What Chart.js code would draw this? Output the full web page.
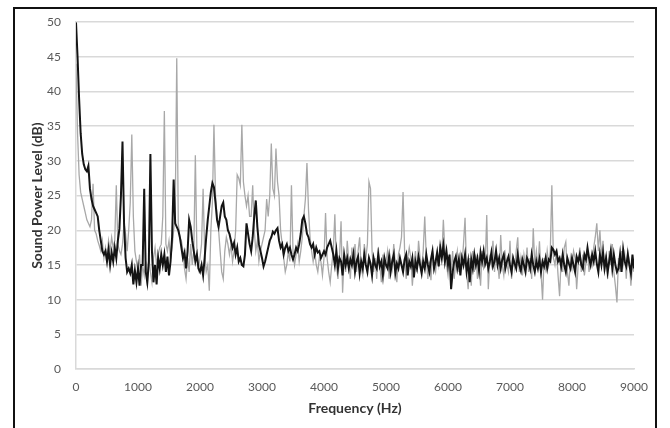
<!DOCTYPE html>
<html>
<head>
<meta charset="utf-8">
<script src="https://cdn.jsdelivr.net/npm/chart.js@4.4.0/dist/chart.umd.min.js"></script>
<style>
body { margin: 0; background: #fff; }
#wrap { position: relative; width: 670px; height: 428px; overflow: hidden; }
#myChart { position: absolute; left: 0; top: 0; }
#frame { position: absolute; left: 13px; top: 7px; width: 640px; height: 440px; border: 2px solid #111; pointer-events: none; }
</style>
</head>
<body>
<div id="wrap">
  <canvas id="myChart" width="670" height="428"></canvas>
  <div id="frame"></div>
</div>
<script>
// frequency grid, 25 Hz steps from 0 to 9000 Hz
var freqStep = 25;
var freqs = [];
for (var f = 0; f <= 9000; f += freqStep) freqs.push(f);

var xTicks = [0, 1000, 2000, 3000, 4000, 5000, 6000, 7000, 8000, 9000];
var yTicks = [0, 5, 10, 15, 20, 25, 30, 35, 40, 45, 50];

// black trace (dB)
var blackLevels = [
    50, 45, 39, 34, 31, 29.5, 28.8, 28.5, 29.3, 26,
    24.5, 23.5, 23, 22.5, 22, 20, 18.5, 17, 16.5, 17,
    15.5, 17.2, 15, 16.8, 15.5, 17.5, 16, 18.5, 20.2, 25,
    32.8, 21, 16, 14, 14.5, 13.8, 15, 12.2, 14.2, 12.5,
    // 1000
    14.5, 12, 15, 15, 26, 14, 12.5, 15.5, 31, 17,
    12.5, 15, 12.2, 16, 14.5, 16.5, 15, 16.5, 14, 16.2,
    13.5, 15.5, 19, 27.3, 21, 20.5, 20, 19, 17.5, 16,
    16.8, 14.5, 17, 21.5, 20.5, 18.5, 17, 15.5, 16.5, 14.5,
    // 2000
    14, 15, 13.5, 16, 19, 21.5, 23.5, 25.5, 26.8, 26.2,
    24, 21.5, 20.5, 22, 23.5, 24, 22, 21.5, 20, 19.5,
    18.5, 17.5, 18.2, 16.5, 17.5, 15.5, 16, 15, 14.8, 16.5,
    21, 19.5, 18, 17, 19, 22, 24.3, 20.5, 18, 17,
    // 3000
    16, 14.8, 15.5, 16.5, 17.5, 18.5, 19, 19.8, 19.5, 20,
    20.3, 18.5, 17.5, 18, 16.5, 17.5, 18, 17, 17.5, 16.5,
    15.8, 16.5, 17.5, 17, 18, 19.5, 21.5, 22, 21, 19.5,
    19, 18, 17.5, 18, 16.5, 17.5, 16.8, 17, 16, 16.5,
    // 4000
    17, 16.5, 17.5, 18, 18.5, 17.5, 16.5, 15, 17, 14.5,
    16, 15.5, 13.5, 16.5, 15, 16, 14.5, 15.8, 15, 16.5,
    14, 15.5, 16.2, 13.8, 15.5, 14.5, 16.5, 15, 14, 16,
    15.2, 13.5, 16, 15, 14.5, 16.5, 14.8, 15.5, 13.5, 16,
    // 5000
    15, 14.5, 16.2, 14, 15.5, 16.5, 13.8, 15.2, 14.5, 16,
    15, 14, 15.8, 16.5, 13.5, 15.5, 14.8, 16, 13.2, 15.5,
    14.5, 16.2, 15, 13.8, 15.5, 14.5, 16.5, 15, 14, 15.8,
    17, 14.5, 15.5, 16.8, 14.8, 17.5, 16, 17.8, 15.5, 17,
    // 6000
    15, 16.5, 11.5, 14, 15.5, 16.2, 14.5, 15.8, 13.5, 16,
    15, 16.5, 14, 15.5, 12.5, 15.8, 14.5, 16.5, 15, 16,
    14.2, 16.8, 15.5, 17, 15.2, 16, 14.5, 15.5, 16.8, 14.8,
    15.5, 17, 15, 16, 14.5, 15.8, 16.5, 14.5, 15.5, 16.2,
    // 7000
    15, 14, 16, 15.2, 14.5, 16.5, 15, 14.2, 15.8, 15,
    14, 16, 15.5, 14.5, 16.5, 15, 14, 15.5, 14.5, 15.8,
    14, 15.5, 14.8, 16, 14.5, 15.8, 15.5, 17.5, 17.2, 16.5,
    17, 15.5, 16, 14.8, 16.5, 15, 14, 16, 15.2, 14.5,
    // 8000
    16, 15, 14, 16.2, 15.5, 16.5, 15, 14.5, 16.5, 15.8,
    17.5, 16, 15, 16.5, 15.5, 17, 15.2, 14, 16.5, 15,
    16.8, 14.5, 16, 14, 15.5, 17, 14.5, 16.5, 15, 14,
    14.5, 16.5, 14, 17.2, 15.5, 14.8, 16.5, 15, 13.8, 16.5,
    14.5
];

// grey trace (dB)
var greyLevels = [
    44, 34, 28, 25.5, 24.5, 23.5, 22.5, 21.5, 21, 20.5,
    21.5, 26.7, 20, 19.5, 18.5, 17.8, 17, 18.5, 16, 17.5,
    16, 18.5, 17, 19, 17.5, 18.5, 26.5, 18, 17, 16.5,
    18, 21, 19.5, 17, 20, 24, 33.8, 22, 17, 15.5,
    // 1000
    14, 16.5, 12, 15, 13.5, 15.5, 12, 16, 14, 12.5,
    16, 17.5, 15, 16.5, 17.5, 18, 22, 37.2, 18, 17,
    18.5, 16, 17.5, 20, 22, 44.8, 21, 19, 18.5, 17,
    14.5, 13, 16, 14, 18, 15, 17, 30.8, 17, 14.5,
    // 2000
    16, 18, 26, 17, 14, 15, 11.3, 20, 24, 35.2,
    25, 22, 20, 17, 14, 13, 17, 19, 18, 16.5,
    18, 15.5, 17, 20, 28, 27.5, 26.5, 35.2, 27, 25,
    23.5, 25, 22, 22, 26.5, 20, 17, 18.5, 15.5, 17,
    // 3000
    18, 19, 20, 24.5, 22, 25, 32.5, 26, 25, 31.8,
    27, 25, 20, 18, 16, 14, 15, 17, 15.5, 26.5,
    17, 15, 16.5, 18, 15.5, 17, 19, 22, 24.5, 29.7,
    23, 19, 17, 15.5, 17, 15, 14, 16, 15.5, 13.5,
    // 4000
    16, 22.5, 16, 14, 12.5, 15, 17, 22.3, 15, 13,
    16, 21.3, 11, 16, 14, 18.5, 15.5, 13, 17.5, 15,
    18, 14, 17, 19, 14.5, 13.5, 18, 16, 18, 27,
    26, 17, 14, 16, 13, 17.5, 15, 12.5, 16.5, 14,
    // 5000
    15.5, 17, 13, 16, 14.5, 18, 15, 12.5, 16.5, 17.5,
    19, 25.5, 17, 13, 16, 17.5, 16, 12, 15, 17,
    14, 18.5, 16, 14.5, 17, 22, 16, 13, 15.5, 12.8,
    17, 15, 14, 16.5, 15, 18, 16, 21.5, 17, 15,
    // 6000
    13.5, 16, 14, 17, 13, 15.5, 17, 14, 16.5, 15,
    18, 21.8, 14, 11.5, 16, 12, 17, 14, 16.5, 13,
    15.5, 12, 17, 14.5, 15, 22.2, 11.5, 16, 15, 18.5,
    14, 17, 15.5, 13, 19.3, 15, 13.5, 16.5, 15, 14,
    // 7000
    18.5, 13, 16, 14.5, 17, 19, 14, 16, 13.5, 16.5,
    15, 17.5, 14, 16, 13, 20.3, 15, 17, 14.5, 18.4,
    14, 10, 16, 14.5, 17, 15, 17, 26.5, 16, 15,
    17, 13.5, 10.5, 16, 14, 17.5, 18.3, 14, 12, 16,
    // 8000
    14.5, 17, 16, 11.5, 15, 17.5, 14, 16.5, 13.5, 15.5,
    17, 14, 16, 15, 17.5, 19, 21, 17, 20, 16,
    18.5, 14, 16.5, 13, 17, 15, 18, 14, 12, 9.6,
    16, 14, 17, 15, 16.5, 13, 17, 15.5, 12, 15,
    14
];

var labelFont = { family: 'Lato', size: 12 };
var titleFont = { family: 'Lato', size: 14, weight: 'bold' };

var ctx = document.getElementById("myChart");
var myChart = new Chart(ctx, {
    type: 'line',
    data: {
        datasets: [
            {
                label: 'black',
                data: freqs.map(function(f, i) { return { x: f, y: blackLevels[i] }; }),
                borderColor: '#141414',
                borderWidth: 2,
                pointRadius: 0,
                tension: 0
            },
            {
                label: 'grey',
                data: freqs.map(function(f, i) { return { x: f, y: greyLevels[i] }; }),
                borderColor: '#a8a8a8',
                borderWidth: 1.3,
                pointRadius: 0,
                tension: 0
            }
        ]
    },
    options: {
        responsive: false,
        animation: false,
        layout: { padding: { left: 0, top: 22, right: 36, bottom: 0 } },
        plugins: {
            legend: { display: false },
            tooltip: { enabled: false }
        },
        scales: {
            x: {
                type: 'linear',
                min: 0,
                max: 9000,
                afterBuildTicks: function(s) { s.ticks = xTicks.map(function(v) { return { value: v }; }); },
                afterFit: function(s) { s.height = 59; },
                ticks: {
                    padding: 11,
                    maxRotation: 0,
                    color: '#595959',
                    font: labelFont,
                    callback: function(v) { return String(v); }
                },
                grid: { display: false, drawTicks: false },
                border: { display: true, color: '#d9d9d9', width: 1.5 },
                title: {
                    display: true,
                    text: 'Frequency (Hz)',
                    color: '#333',
                    font: titleFont,
                    padding: { top: 0, bottom: 11 }
                }
            },
            y: {
                min: 0,
                max: 50,
                afterBuildTicks: function(s) { s.ticks = yTicks.map(function(v) { return { value: v }; }); },
                afterFit: function(s) { s.width = 76; },
                ticks: {
                    padding: 15,
                    color: '#595959',
                    font: labelFont,
                    callback: function(v) { return String(v); }
                },
                grid: { color: '#d9d9d9', lineWidth: 1.5, drawTicks: false },
                border: { display: true, color: '#d9d9d9', width: 1.5 },
                title: {
                    display: true,
                    text: 'Sound Power Level (dB)',
                    color: '#333',
                    font: titleFont,
                    padding: { top: 29, bottom: 0 }
                }
            }
        }
    }
});
</script>
</body>
</html>
